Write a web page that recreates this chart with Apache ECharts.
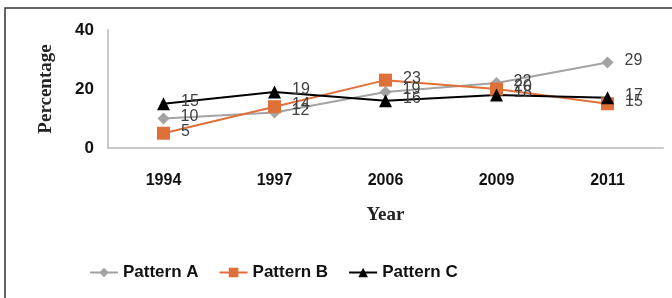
<!DOCTYPE html>
<html>
<head>
<meta charset="utf-8">
<script src="https://cdn.jsdelivr.net/npm/echarts@6/dist/echarts.min.js"></script>
<style>
  html, body { margin: 0; padding: 0; background: #fff; }
  #main { width: 672px; height: 298px; }
</style>
</head>
<body>
<div id="main"></div>
<script>
var myChart = echarts.init(document.getElementById('main'));
var years = ['1994', '1997', '2006', '2009', '2011'];
var patternA = [10, 12, 19, 22, 29];
var patternB = [5, 14, 23, 20, 15];
var patternC = [15, 19, 16, 18, 17];

function mkSeries(name, data, color, symbol, size) {
    return {
        name: name,
        type: 'line',
        data: data,
        symbol: symbol,
        symbolSize: size,
        lineStyle: { color: color, width: 2 },
        itemStyle: { color: color },
        label: {
            show: true,
            position: 'right',
            distance: 11,
            offset: [0, -2],
            color: '#404040',
            fontFamily: 'Arial, Liberation Sans',
            fontSize: 16
        }
    };
}

var option = {
    animation: false,
    graphic: [{
        type: 'rect',
        shape: { x: 5, y: 8, width: 680, height: 300 },
        style: { fill: 'none', stroke: '#333', lineWidth: 1.5 },
        silent: true
    }],
    grid: { left: 108, right: 9, top: 30, bottom: 150 },
    legend: {
        bottom: 12,
        left: 84,
        itemGap: 20,
        itemWidth: 28,
        itemHeight: 12,
        textStyle: { color: '#111', fontWeight: 'bold', fontSize: 17, fontFamily: 'Arial, Liberation Sans' },
        data: ['Pattern A', 'Pattern B', 'Pattern C']
    },
    xAxis: {
        type: 'category',
        data: years,
        name: 'Year',
        nameLocation: 'middle',
        nameGap: 58,
        nameTextStyle: { fontFamily: 'Liberation Serif, serif', fontWeight: 'bold', fontSize: 19, color: '#222' },
        axisLine: { lineStyle: { color: '#c8c8c8', width: 2 } },
        axisTick: { show: false },
        axisLabel: { margin: 25, color: '#111', fontWeight: 'bold', fontSize: 16, fontFamily: 'Arial, Liberation Sans' }
    },
    yAxis: {
        type: 'value',
        min: 0,
        max: 40,
        interval: 20,
        name: 'Percentage',
        nameLocation: 'middle',
        nameGap: 52,
        nameTextStyle: { fontFamily: 'Liberation Serif, serif', fontWeight: 'bold', fontSize: 19, color: '#222' },
        axisLine: { show: true, lineStyle: { color: '#c8c8c8', width: 2 } },
        axisTick: { show: false },
        splitLine: { show: false },
        axisLabel: { margin: 14, color: '#111', fontWeight: 'bold', fontSize: 17, fontFamily: 'Arial, Liberation Sans' }
    },
    series: [
        mkSeries('Pattern A', patternA, '#a3a3a3', 'diamond', 12),
        mkSeries('Pattern B', patternB, '#e0703a', 'rect', 13),
        mkSeries('Pattern C', patternC, '#000000', 'triangle', 13)
    ]
};
myChart.setOption(option);
</script>
</body>
</html>
